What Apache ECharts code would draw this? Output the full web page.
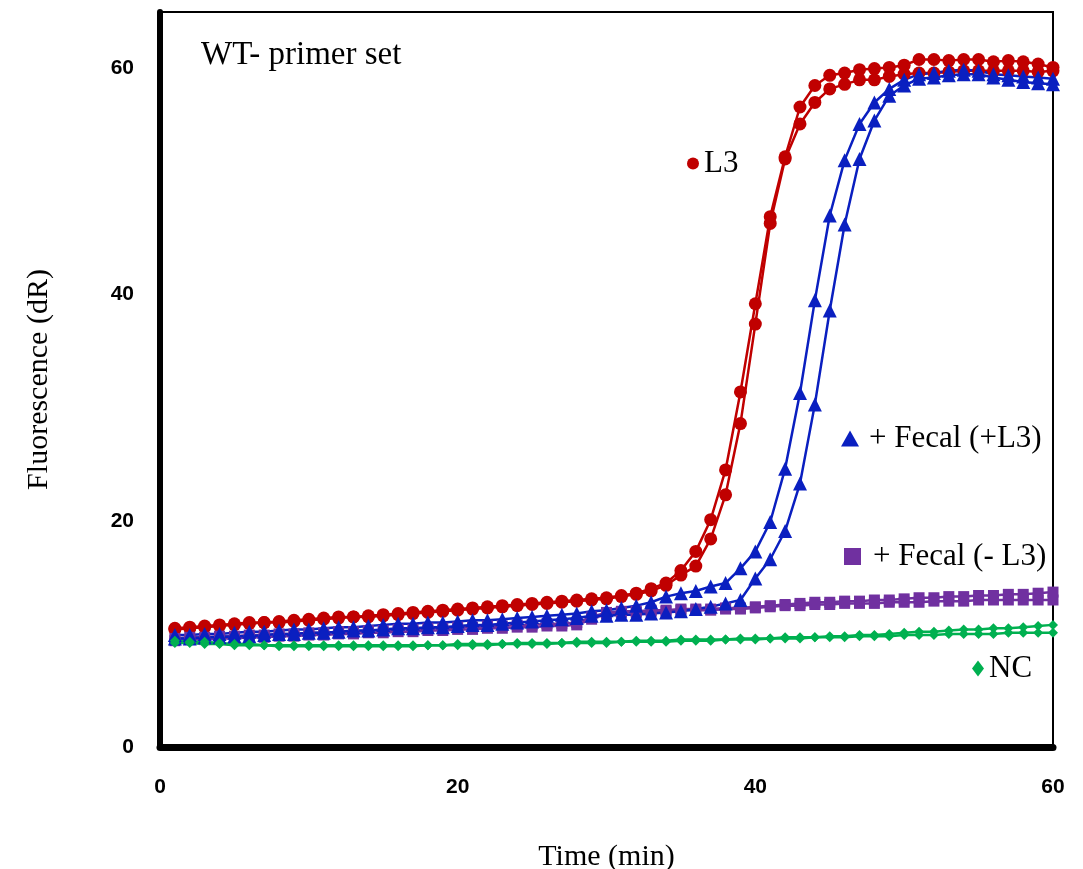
<!DOCTYPE html>
<html>
<head>
<meta charset="utf-8">
<script src="https://cdn.jsdelivr.net/npm/echarts@6/dist/echarts.min.js"></script>
<style>html,body{margin:0;padding:0;background:#fff;}#chart{width:1083px;height:869px;}</style>
</head>
<body>
<div id="chart"></div>
<script>
// ---- Data ----
const times = [1,2,3,4,5,6,7,8,9,10,11,12,13,14,15,16,17,18,19,20,21,22,23,24,25,26,27,28,29,30,
               31,32,33,34,35,36,37,38,39,40,41,42,43,44,45,46,47,48,49,50,51,52,53,54,55,56,57,58,59,60];

const l3A = [10.5,10.6,10.7,10.8,10.9,11.0,11.0,11.1,11.2,11.3,
             11.4,11.5,11.5,11.6,11.7,11.8,11.9,12.0,12.1,12.2,
             12.3,12.4,12.5,12.6,12.7,12.8,12.9,13.0,13.1,13.2,
             13.4,13.6,14.0,14.5,15.6,17.3,20.1,24.5,31.4,39.2,
             46.9,52.2,56.6,58.5,59.4,59.6,59.9,60.0,60.1,60.3,
             60.8,60.8,60.7,60.8,60.8,60.6,60.7,60.6,60.4,60.1];
const l3B = [10.4,10.5,10.6,10.7,10.8,10.9,11.0,11.0,11.1,11.2,
             11.3,11.4,11.5,11.5,11.6,11.7,11.8,11.9,12.0,12.1,
             12.2,12.3,12.4,12.5,12.6,12.7,12.8,12.9,13.0,13.1,
             13.3,13.5,13.8,14.3,15.2,16.0,18.4,22.3,28.6,37.4,
             46.3,52.0,55.1,57.0,58.2,58.6,59.0,59.0,59.3,59.5,
             59.6,59.6,59.7,59.8,59.8,59.8,59.8,59.8,59.7,59.8];

const fecalPosA = [9.9,9.9,10.0,10.0,10.1,10.2,10.2,10.3,10.4,10.4,
                   10.5,10.6,10.6,10.7,10.8,10.9,10.9,11.0,11.0,11.1,
                   11.2,11.2,11.3,11.4,11.5,11.6,11.7,11.8,12.0,12.1,
                   12.3,12.5,12.8,13.3,13.6,13.8,14.2,14.5,15.8,17.3,
                   19.9,24.6,31.3,39.5,47.0,51.9,55.1,57.0,58.2,59.0,
                   59.5,59.6,59.8,59.9,59.8,59.5,59.4,59.3,59.2,59.1];
const fecalPosB = [9.6,9.6,9.7,9.7,9.8,9.8,9.9,10.0,10.0,10.1,
                   10.1,10.2,10.3,10.3,10.4,10.5,10.5,10.6,10.6,10.7,
                   10.8,10.8,10.9,11.0,11.1,11.2,11.3,11.4,11.6,11.6,
                   11.7,11.7,11.8,11.9,12.0,12.2,12.4,12.7,13.0,14.9,
                   16.6,19.1,23.3,30.3,38.6,46.2,52.0,55.4,57.6,58.5,
                   59.1,59.2,59.4,59.5,59.5,59.2,59.0,58.8,58.7,58.6];

const fecalNegA = [9.6,9.7,9.7,9.8,9.8,9.9,9.9,10.0,10.0,10.1,
                   10.1,10.2,10.2,10.3,10.3,10.4,10.4,10.5,10.5,10.6,
                   10.6,10.7,10.7,10.8,10.8,10.9,10.9,11.0,11.5,11.9,
                   12.0,12.0,12.1,12.1,12.2,12.2,12.2,12.3,12.3,12.4,
                   12.5,12.6,12.7,12.8,12.8,12.9,12.9,13.0,13.0,13.1,
                   13.2,13.2,13.3,13.3,13.4,13.4,13.5,13.5,13.6,13.7];
const fecalNegB = [9.4,9.5,9.5,9.6,9.6,9.7,9.7,9.8,9.8,9.9,
                   9.9,10.0,10.0,10.1,10.1,10.2,10.2,10.3,10.3,10.4,
                   10.4,10.5,10.5,10.6,10.6,10.7,10.7,10.8,11.3,11.8,
                   11.9,11.9,12.0,12.0,12.1,12.1,12.1,12.2,12.2,12.3,
                   12.4,12.5,12.5,12.6,12.6,12.7,12.7,12.7,12.8,12.8,
                   12.8,12.9,12.9,12.9,13.0,13.0,13.0,13.0,13.0,13.0];

const ncA = [9.4,9.3,9.3,9.2,9.1,9.1,9.0,9.0,9.0,9.0,
             9.0,9.0,9.0,9.0,9.0,9.0,9.0,9.0,9.0,9.1,
             9.1,9.1,9.1,9.2,9.2,9.2,9.2,9.3,9.3,9.3,
             9.3,9.4,9.4,9.4,9.5,9.5,9.5,9.5,9.6,9.6,
             9.6,9.7,9.7,9.7,9.8,9.8,9.9,9.9,10.0,10.1,
             10.2,10.2,10.3,10.4,10.4,10.5,10.5,10.6,10.7,10.8];
const ncB = [9.2,9.2,9.1,9.1,9.0,9.0,9.0,8.9,8.9,8.9,
             8.9,8.9,8.9,8.9,8.9,8.9,8.9,9.0,9.0,9.0,
             9.0,9.0,9.1,9.1,9.1,9.1,9.2,9.2,9.2,9.2,
             9.3,9.3,9.3,9.3,9.4,9.4,9.4,9.5,9.5,9.5,
             9.6,9.6,9.6,9.7,9.7,9.7,9.8,9.8,9.8,9.9,
             9.9,9.9,10.0,10.0,10.0,10.0,10.1,10.1,10.1,10.1];

const seriesNames = ['L3', '+ Fecal (+L3)', '+ Fecal (- L3)', 'NC'];
const xTicks = [0, 20, 40, 60];
const yTicks = [0, 20, 40, 60];

// ---- Build ----
const pair = (vals) => times.map((t, i) => [t, vals[i]]);
const COLORS = { red: '#C00000', blue: '#0A1FC0', purple: '#7030A0', green: '#00B050' };
const SERIF = 'Liberation Serif';

function line(name, vals, color, symbol, size) {
  return {
    type: 'line', name: name, data: pair(vals),
    symbol: symbol, symbolSize: size,
    itemStyle: { color: color },
    lineStyle: { color: color, width: 2.5 },
    emphasis: { disabled: true },
    animation: false
  };
}

function legendAt(name, icon, w, h, left, top, padLeft) {
  return {
    data: [name], icon: icon, itemWidth: w, itemHeight: h,
    left: left, top: top, orient: 'horizontal', selectedMode: false,
    textStyle: { fontFamily: SERIF, fontSize: 31, color: '#000', padding: [0, 0, 0, padLeft] }
  };
}

const chart = echarts.init(document.getElementById('chart'), null, { renderer: 'canvas' });
chart.setOption({
  backgroundColor: '#fff',
  animation: false,
  title: {
    text: 'WT- primer set', left: 196, top: 34,
    textStyle: { fontFamily: SERIF, fontSize: 33, fontWeight: 'normal', color: '#000' }
  },
  legend: [
    legendAt(seriesNames[0], 'circle', 12, 12, 682, 143, 0),
    legendAt(seriesNames[1], 'triangle', 18, 16, 836, 418, 5),
    legendAt(seriesNames[2], 'rect', 17, 17, 839, 536, 7),
    legendAt(seriesNames[3], 'diamond', 12, 16, 967, 648, 0)
  ],
  grid: {
    left: 160, right: 30, top: 12, bottom: 122,
    containLabel: false, outerBoundsMode: 'none',
    show: true, borderColor: '#000', borderWidth: 2, backgroundColor: 'transparent'
  },
  xAxis: {
    type: 'value', min: xTicks[0], max: xTicks[xTicks.length - 1], interval: 20,
    name: 'Time (min)', nameLocation: 'middle', nameGap: 95,
    nameTextStyle: { fontFamily: SERIF, fontSize: 30, color: '#000' },
    axisLine: { show: true, onZero: false, lineStyle: { color: '#000', width: 7 } },
    axisTick: { show: false },
    splitLine: { show: false },
    axisLabel: { margin: 30, fontFamily: 'Liberation Sans', fontWeight: 'bold', fontSize: 21, color: '#000' }
  },
  yAxis: {
    type: 'value', min: 0, max: 65, interval: 20,
    name: 'Fluorescence (dR)', nameLocation: 'middle', nameGap: 106, nameRotate: 90,
    nameTextStyle: { fontFamily: SERIF, fontSize: 30, color: '#000' },
    axisLine: { show: true, onZero: false, lineStyle: { color: '#000', width: 6 } },
    axisTick: { show: false },
    splitLine: { show: false },
    axisLabel: {
      margin: 26, fontFamily: 'Liberation Sans', fontWeight: 'bold', fontSize: 21, color: '#000',
      formatter: (v) => (yTicks.indexOf(v) >= 0 ? String(v) : '')
    }
  },
  series: [
    line(seriesNames[0], l3A, COLORS.red, 'circle', 13),
    line(seriesNames[0], l3B, COLORS.red, 'circle', 13),
    line(seriesNames[2], fecalNegA, COLORS.purple, 'rect', 11),
    line(seriesNames[2], fecalNegB, COLORS.purple, 'rect', 11),
    line(seriesNames[1], fecalPosA, COLORS.blue, 'triangle', 14),
    line(seriesNames[1], fecalPosB, COLORS.blue, 'triangle', 14),
    line(seriesNames[3], ncA, COLORS.green, 'diamond', 10),
    line(seriesNames[3], ncB, COLORS.green, 'diamond', 10)
  ]
});
</script>
</body>
</html>
